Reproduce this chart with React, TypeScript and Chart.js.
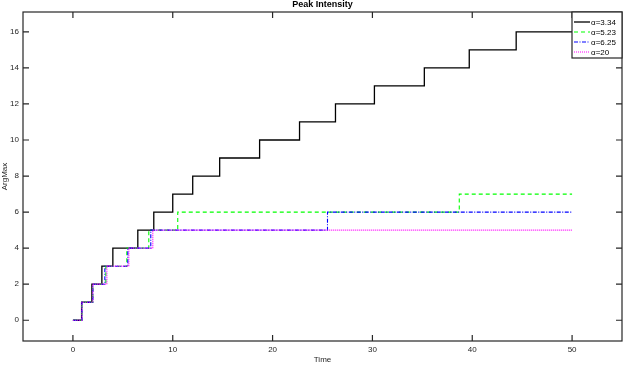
import React, { useEffect, useRef } from "react";
import { Chart, registerables } from "chart.js";

Chart.register(...registerables);

const seriesLabels = ["α=3.34", "α=5.23", "α=6.25", "α=20"];

const blackTimes = [0, 0.87, 1.9, 2.9, 4.0, 6.5, 8.1, 10.0, 12.0, 14.7, 18.7, 22.7, 26.3, 30.2, 35.2, 39.7, 44.4, 50];
const blackLevels = [0, 1, 2, 3, 4, 5, 6, 7, 8, 9, 10, 11, 12, 13, 14, 15, 16, 16];

const greenTimes = [0, 0.9, 2.0, 3.3, 5.4, 7.6, 10.5, 38.7, 50];
const greenLevels = [0, 1, 2, 3, 4, 5, 6, 7, 7];

const blueTimes = [0, 0.9, 2.0, 3.2, 5.5, 7.8, 25.5, 50];
const blueLevels = [0, 1, 2, 3, 4, 5, 6, 6];

const magentaTimes = [0, 0.9, 2.0, 3.4, 5.6, 8.0, 50];
const magentaLevels = [0, 1, 2, 3, 4, 5, 5];

const xTicks = [0, 10, 20, 30, 40, 50];
const yTicks = [0, 2, 4, 6, 8, 10, 12, 14, 16];

const FONT = "'Liberation Sans', Arial, Helvetica, sans-serif";
const AXIS_COLOR = "#262626";

const toPoints = (t: number[], v: number[]) => t.map((x, i) => ({ x, y: v[i] }));

const styles = [
  { color: "#000000", dash: [] as number[], width: 1.3 },
  { color: "#00ff00", dash: [4, 3], width: 1.1 },
  { color: "#0000ff", dash: [4, 1.5, 1, 1.5], width: 1.1 },
  { color: "#ff00ff", dash: [1, 1], width: 1.2 },
];

const framePlugin = {
  id: "frame",
  afterDraw(chart: any) {
    const { ctx, chartArea } = chart;
    const { left, right, top, bottom } = chartArea;
    const xs = chart.scales.x;
    const ys = chart.scales.y;
    ctx.save();
    ctx.strokeStyle = AXIS_COLOR;
    ctx.lineWidth = 1.2;
    ctx.setLineDash([]);
    ctx.strokeRect(left, top, right - left, bottom - top);
    const tl = 6;
    ctx.beginPath();
    xTicks.forEach((t) => {
      const px = xs.getPixelForValue(t);
      ctx.moveTo(px, bottom);
      ctx.lineTo(px, bottom - tl);
      ctx.moveTo(px, top);
      ctx.lineTo(px, top + tl);
    });
    yTicks.forEach((t) => {
      const py = ys.getPixelForValue(t);
      ctx.moveTo(left, py);
      ctx.lineTo(left + tl, py);
      ctx.moveTo(right, py);
      ctx.lineTo(right - tl, py);
    });
    ctx.stroke();

    // Title
    ctx.fillStyle = "#000";
    ctx.font = `bold 9px ${FONT}`;
    ctx.textAlign = "center";
    ctx.textBaseline = "middle";
    ctx.fillText("Peak Intensity", (left + right) / 2, 5);

    // Axis titles
    ctx.fillStyle = AXIS_COLOR;
    ctx.font = `8px ${FONT}`;
    ctx.fillText("Time", (left + right) / 2, 359.5);
    ctx.save();
    ctx.translate(5, (top + bottom) / 2);
    ctx.rotate(-Math.PI / 2);
    ctx.fillText("ArgMax", 0, 0);
    ctx.restore();

    // Legend
    const lx = 572;
    const ly = top;
    const lw = right - lx;
    const lh = 46;
    ctx.fillStyle = "#fff";
    ctx.fillRect(lx, ly, lw, lh);
    ctx.strokeStyle = AXIS_COLOR;
    ctx.lineWidth = 1.2;
    ctx.strokeRect(lx, ly, lw, lh);
    seriesLabels.forEach((lab, i) => {
      const y = ly + 10 + i * 10;
      const s = styles[i];
      ctx.beginPath();
      ctx.strokeStyle = s.color;
      ctx.lineWidth = s.width;
      ctx.setLineDash(s.dash);
      ctx.moveTo(lx + 2, y);
      ctx.lineTo(lx + 18, y);
      ctx.stroke();
      ctx.setLineDash([]);
      ctx.fillStyle = "#000";
      ctx.font = `8px ${FONT}`;
      ctx.textAlign = "left";
      ctx.textBaseline = "middle";
      ctx.fillText(lab, lx + 19, y + 0.5);
    });
    ctx.restore();
  },
};

export default function App() {
  const ref = useRef<HTMLCanvasElement | null>(null);
  useEffect(() => {
    if (!ref.current) return;
    const allData = [
      toPoints(blackTimes, blackLevels),
      toPoints(greenTimes, greenLevels),
      toPoints(blueTimes, blueLevels),
      toPoints(magentaTimes, magentaLevels),
    ];
    const orders = [3, 2, 1, 0];
    const chart = new Chart(ref.current, {
      type: "line",
      data: {
        datasets: allData.map((d, i) => ({
          label: seriesLabels[i],
          data: d,
          borderColor: styles[i].color,
          borderWidth: styles[i].width,
          borderDash: styles[i].dash,
          pointRadius: 0,
          stepped: "before" as const,
          fill: false,
          order: orders[i],
        })),
      },
      options: {
        animation: false,
        responsive: false,
        maintainAspectRatio: false,
        layout: { padding: { top: 12, right: 1, left: 0, bottom: 0 } },
        plugins: {
          legend: { display: false },
          tooltip: { enabled: false },
          title: { display: false },
        },
        scales: {
          x: {
            type: "linear",
            min: -5,
            max: 55,
            grid: { display: false, drawTicks: false },
            border: { display: false },
            afterBuildTicks: (s: any) => {
              s.ticks = xTicks.map((v) => ({ value: v }));
            },
            afterFit: (s: any) => {
              s.height = 24;
            },
            ticks: {
              color: AXIS_COLOR,
              font: { family: FONT, size: 8 },
              padding: 4,
              maxRotation: 0,
            },
          },
          y: {
            type: "linear",
            min: -1.15,
            max: 17.1,
            grid: { display: false, drawTicks: false },
            border: { display: false },
            afterBuildTicks: (s: any) => {
              s.ticks = yTicks.map((v) => ({ value: v }));
            },
            afterFit: (s: any) => {
              s.width = 23;
            },
            ticks: {
              color: AXIS_COLOR,
              font: { family: FONT, size: 8 },
              padding: 4,
            },
          },
        },
      },
      plugins: [framePlugin],
    });
    return () => chart.destroy();
  }, []);
  return (
    <div style={{ position: "fixed", left: 0, top: 0, width: 623, height: 365, background: "#fff" }}>
      <canvas ref={ref} width={623} height={365} style={{ width: 623, height: 365, display: "block" }} />
    </div>
  );
}
